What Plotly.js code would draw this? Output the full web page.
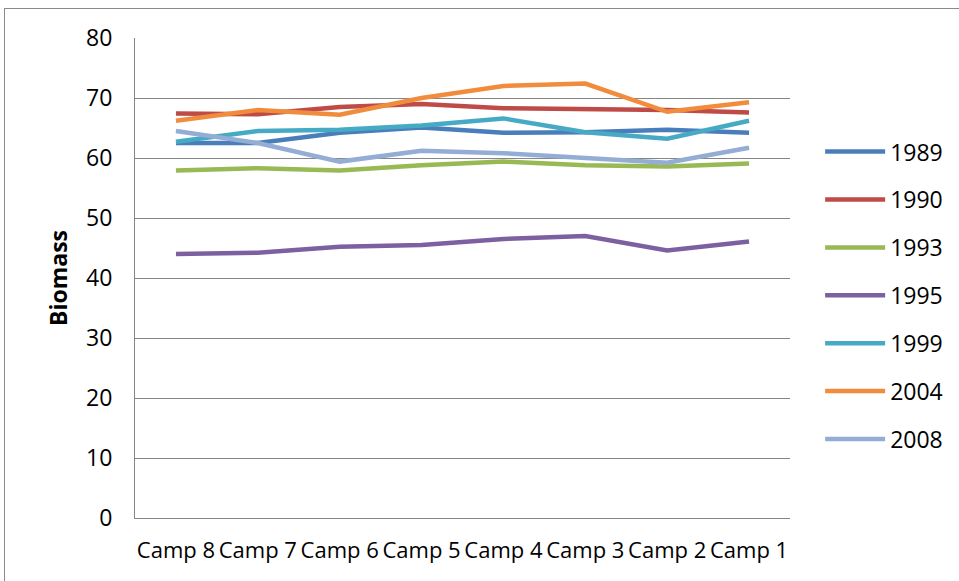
<!DOCTYPE html>
<html>
<head>
<meta charset="utf-8">
<script src="https://cdn.plot.ly/plotly-3.0.1.min.js"></script>
<style>
  html, body { margin: 0; padding: 0; background: #fff; }
  #wrap { position: relative; width: 959px; height: 581px; overflow: hidden; }
  #chart { position: absolute; left: 0; top: 0; width: 959px; height: 581px; }
  #frame { position: absolute; left: 4px; top: 8px; width: 970px; height: 580px;
           border: 1.5px solid #8a8a8a; pointer-events: none; box-sizing: border-box; }
</style>
</head>
<body>
<div id="wrap">
  <div id="chart"></div>
  <div id="frame"></div>
</div>
<script>
const categories = ["Camp 8", "Camp 7", "Camp 6", "Camp 5", "Camp 4", "Camp 3", "Camp 2", "Camp 1"];
const seriesNames = ["1989", "1990", "1993", "1995", "1999", "2004", "2008"];
const s1989 = [62.5, 62.5, 64.2, 65.1, 64.2, 64.3, 64.7, 64.2];
const s1990 = [67.4, 67.3, 68.5, 69.0, 68.3, 68.2, 68.0, 67.6];
const s1993 = [57.9, 58.3, 57.9, 58.8, 59.4, 58.8, 58.6, 59.1];
const s1995 = [44.0, 44.2, 45.2, 45.5, 46.5, 47.0, 44.6, 46.1];
const s1999 = [62.7, 64.5, 64.7, 65.4, 66.6, 64.3, 63.2, 66.2];
const s2004 = [66.2, 68.0, 67.2, 70.0, 72.0, 72.4, 67.7, 69.3];
const s2008 = [64.5, 62.5, 59.4, 61.2, 60.8, 60.0, 59.2, 61.7];
const seriesValues = [s1989, s1990, s1993, s1995, s1999, s2004, s2008];
const colors = ["#4A7EBB", "#BE4B48", "#98B954", "#7D60A0", "#46AAC5", "#F08C3C", "#93ADD5"];

const FONT = "Open Sans, Noto Sans, sans-serif";

const traces = seriesNames.map((name, i) => ({
  type: "scatter",
  mode: "lines",
  name: name,
  legendgroup: name,
  x: categories,
  y: seriesValues[i],
  line: { color: colors[i], width: 4.5 },
  hoverinfo: "x+y+name"
}));

const layout = {
  width: 959,
  height: 581,
  margin: { l: 135, r: 169, t: 38, b: 63, pad: 0, autoexpand: false },
  paper_bgcolor: "#ffffff",
  plot_bgcolor: "#ffffff",
  font: { family: FONT, color: "#000000", size: 23 },
  showlegend: true,
  legend: {
    x: 1.046, xanchor: "left",
    y: 0.808, yanchor: "top",
    maxheight: 1000,
    font: { family: FONT, size: 23, color: "#000000" },
    tracegroupgap: 15,
    itemwidth: 60,
    bgcolor: "rgba(0,0,0,0)",
    borderwidth: 0
  },
  xaxis: {
    type: "category",
    categoryorder: "array",
    categoryarray: categories,
    range: [-0.5, 7.5],
    showgrid: false,
    showline: true,
    linecolor: "#868686",
    linewidth: 1,
    ticks: "",
    tickangle: 0,
    tickfont: { family: FONT, size: 22, color: "#000000" },
    ticklabelstandoff: 13,
    zeroline: false,
    fixedrange: true
  },
  yaxis: {
    range: [0, 80],
    dtick: 10,
    tick0: 0,
    showgrid: true,
    gridcolor: "#868686",
    gridwidth: 1,
    showline: true,
    linecolor: "#868686",
    linewidth: 1,
    ticks: "",
    tickfont: { family: FONT, size: 23, color: "#000000" },
    ticklabelstandoff: 17,
    zeroline: false,
    fixedrange: true,
    title: { text: "<b>Biomass</b>", font: { family: FONT, size: 23, color: "#000000" }, standoff: 12 }
  }
};

Plotly.newPlot("chart", traces, layout, { displayModeBar: false, staticPlot: false });
</script>
</body>
</html>
